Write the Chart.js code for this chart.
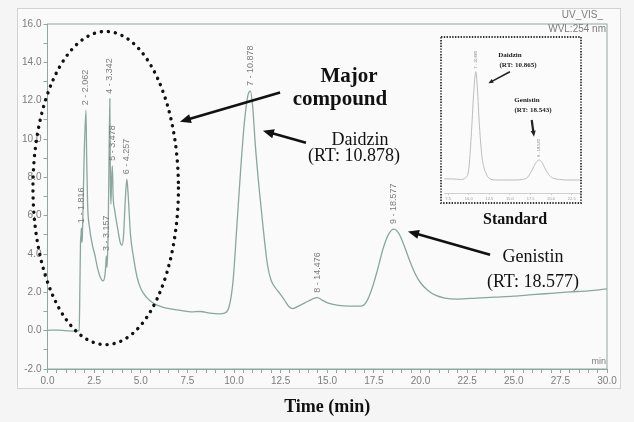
<!DOCTYPE html>
<html>
<head>
<meta charset="utf-8">
<script src="https://cdn.jsdelivr.net/npm/chart.js@4.4.1/dist/chart.umd.min.js"></script>
<style>
  html, body { margin: 0; padding: 0; background: #f5f5f5; }
  #wrap { position: relative; width: 634px; height: 422px; }
  #main { position: absolute; left: 0; top: 0; }
  #inset { position: absolute; left: 440px; top: 36px; }
</style>
</head>
<body>
<div id="wrap">
  <canvas id="main" width="634" height="422"></canvas>
  <canvas id="inset" width="142" height="168"></canvas>
</div>
<script>
// sample chromatogram, UV 254 nm (mAU vs min)
const timeMin = [
  0.0, 0.5, 1.0, 1.5, 1.70, 1.74, 1.77, 1.80, 1.816, 1.84,
  1.87, 1.95, 2.062, 2.10, 2.15, 2.25, 2.40, 2.55, 2.70, 2.85,
  2.98, 3.08, 3.13, 3.157, 3.19, 3.25, 3.30, 3.342, 3.37, 3.40,
  3.44, 3.478, 3.52, 3.60, 3.75, 3.90, 4.00, 4.08, 4.17, 4.257,
  4.33, 4.45, 4.60, 4.80, 5.00, 5.30, 5.70, 6.20, 6.70, 7.20,
  7.70, 8.20, 8.70, 9.20, 9.50, 9.75, 9.95, 10.15, 10.35, 10.55,
  10.75, 10.878, 11.0, 11.15, 11.35, 11.57, 11.80, 12.00, 12.25, 12.45,
  12.70, 12.95, 13.15, 13.40, 13.80, 14.20, 14.476, 14.75, 15.10, 15.60,
  16.20, 16.80, 17.10, 17.40, 17.70, 18.00, 18.30, 18.577, 18.85, 19.10,
  19.40, 19.70, 20.00, 20.40, 20.80, 21.30, 22.00, 23.00, 24.00, 25.00,
  26.00, 27.00, 28.00, 29.00, 30.00
];
const signal = [
  0.02, 0.03, 0.0, -0.02, 0.0, 2.5, 4.6, 5.0, 5.35, 4.6,
  4.9, 8.5, 11.5, 9.0, 6.6, 5.4, 4.5, 3.9, 3.2, 2.75,
  2.6, 2.9, 3.5, 3.9, 3.3, 5.0, 9.0, 12.1, 8.0, 6.6,
  8.0, 8.6, 7.0, 6.3, 5.4, 4.6, 4.45, 5.0, 6.8, 7.9,
  7.0, 5.0, 3.9, 2.8, 2.2, 1.75, 1.42, 1.22, 1.12, 1.05,
  0.98, 1.0, 0.92, 0.88, 0.92, 1.3, 2.6, 5.4, 8.3, 10.8,
  12.3, 12.5, 11.7, 9.6, 7.4, 5.3, 3.4, 2.6, 2.2, 1.95,
  1.6, 1.25, 1.15, 1.25, 1.45, 1.65, 1.72, 1.58, 1.42, 1.32,
  1.28, 1.28, 1.5, 2.2, 3.2, 4.3, 5.05, 5.3, 5.05, 4.5,
  3.7, 3.0, 2.5, 2.1, 1.85, 1.7, 1.65, 1.7, 1.75, 1.8,
  1.88, 1.95, 2.02, 2.08, 2.18
];
const peakNames = ['1 - 1.816', '2 - 2.062', '3 - 3.157', '4 - 3.342', '5 - 3.478',
                   '6 - 4.257', '7 - 10.878', '8 - 14.476', '9 - 18.577'];
const peakTimes = [1.816, 2.062, 3.157, 3.342, 3.478, 4.257, 10.878, 14.476, 18.577];

// standard (inset)
const stdTime = [7.0, 8.0, 9.0, 9.6, 10.0, 10.3, 10.6, 10.865, 11.05, 11.3,
                 11.6, 11.9, 12.1, 12.3, 12.6, 13.5, 14.5, 15.5, 16.5, 17.2,
                 17.8, 18.2, 18.543, 18.9, 19.3, 19.8, 20.3, 21.0, 22.0, 23.5];
const stdSignal = [1, 1, 0.5, 2, 10, 40, 80, 100, 85, 50,
                   22, 10, 6, 3, 1, 0, 0, 0, 0.5, 3,
                   11, 16.5, 18.5, 16, 10, 4, 1.5, 0.5, 0, 0];
const stdPeakNames = ['7 - 10.865', '9 - 18.543'];
const stdPeakTimes = [10.865, 18.543];

const AXIS = '#8ea8a2';
const TRACE = '#8aa69f';
const TICKTXT = '#7c7c7c';

function arrow(ctx, x1, y1, x2, y2, w, head) {
  const a = Math.atan2(y2 - y1, x2 - x1);
  const c = Math.cos(a), s = Math.sin(a);
  ctx.lineWidth = w;
  ctx.beginPath();
  ctx.moveTo(x1, y1);
  ctx.lineTo(x2 - c * head * 0.8, y2 - s * head * 0.8);
  ctx.stroke();
  ctx.beginPath();
  ctx.moveTo(x2, y2);
  ctx.lineTo(x2 - head * c + head * 0.42 * s, y2 - head * s - head * 0.42 * c);
  ctx.lineTo(x2 - head * c - head * 0.42 * s, y2 - head * s + head * 0.42 * c);
  ctx.closePath();
  ctx.fill();
}

function peakLabels(chart, names, times, xs, ys, font, gap) {
  const ctx = chart.ctx;
  ctx.save();
  ctx.fillStyle = TICKTXT;
  ctx.font = font;
  ctx.textAlign = 'left';
  ctx.textBaseline = 'middle';
  names.forEach((n, i) => {
    const k = xs.indexOf(times[i]);
    const x = chart.scales.x.getPixelForValue(times[i]);
    const y = chart.scales.y.getPixelForValue(ys[k]) - gap;
    ctx.save();
    ctx.translate(x, y);
    ctx.rotate(-Math.PI / 2);
    ctx.fillText(n, 0, 0);
    ctx.restore();
  });
  ctx.restore();
}

const mainNotes = {
  texts: [
    { t: 'Major', x: 16.17, y: 13.25, font: 'bold 21px "Liberation Serif"' },
    { t: 'compound', x: 15.68, y: 12.05, font: 'bold 21px "Liberation Serif"' },
    { t: 'Daidzin', x: 16.76, y: 9.96, font: '18px "Liberation Serif"' },
    { t: '(RT: 10.878)', x: 16.43, y: 9.08, font: '18px "Liberation Serif"' },
    { t: 'Genistin', x: 26.03, y: 3.81, font: '18px "Liberation Serif"' },
    { t: '(RT: 18.577)', x: 26.03, y: 2.5, font: '18px "Liberation Serif"' },
    { t: 'Standard', x: 25.07, y: 5.79, font: 'bold 16px "Liberation Serif"' }
  ],
  arrows: [
    { x1: 12.47, y1: 12.42, x2: 7.10, y2: 10.9 },
    { x1: 13.86, y1: 9.81, x2: 11.55, y2: 10.43 },
    { x1: 23.73, y1: 3.96, x2: 19.33, y2: 5.18 }
  ],
  ellipse: { x: 3.12, y: 7.44, rx: 3.90, ry: 8.17 }
};

const mainDecor = {
  id: 'mainDecor',
  beforeDraw(chart) {
    const ctx = chart.ctx;
    ctx.save();
    ctx.fillStyle = '#f5f5f5';
    ctx.fillRect(0, 0, chart.width, chart.height);
    ctx.fillStyle = '#fafafa';
    ctx.strokeStyle = '#d2d2d2';
    ctx.lineWidth = 1;
    ctx.fillRect(17.5, 8.5, 603, 380);
    ctx.strokeRect(17.5, 8.5, 603, 380);
    const a = chart.chartArea;
    ctx.strokeStyle = AXIS;
    ctx.strokeRect(a.left, a.top, a.right - a.left, a.bottom - a.top);
    ctx.fillStyle = TICKTXT;
    ctx.font = '10px "Liberation Sans"';
    ctx.textAlign = 'right';
    ctx.textBaseline = 'middle';
    ctx.fillText('UV_VIS_', a.right - 4, 15);
    ctx.fillText('WVL:254 nm', a.right - 1, 29);
    ctx.font = '9px "Liberation Sans"';
    ctx.fillText('min', a.right - 1, a.bottom - 7);
    ctx.restore();
  },
  afterDatasetsDraw(chart) {
    const ctx = chart.ctx;
    const X = v => chart.scales.x.getPixelForValue(v);
    const Y = v => chart.scales.y.getPixelForValue(v);
    peakLabels(chart, peakNames, peakTimes, timeMin, signal, '9px "Liberation Sans"', 5);
    ctx.save();
    // dotted ellipse around the early peaks
    const e = mainNotes.ellipse;
    const cx = X(e.x), cy = Y(e.y);
    ctx.strokeStyle = '#111';
    ctx.lineWidth = 3.4;
    ctx.lineCap = 'round';
    ctx.setLineDash([0.1, 7]);
    ctx.beginPath();
    ctx.ellipse(cx, cy, X(e.x + e.rx) - cx, cy - Y(e.y + e.ry), 0, 0, Math.PI * 2);
    ctx.stroke();
    ctx.setLineDash([]);
    ctx.lineCap = 'butt';
    ctx.fillStyle = '#111';
    mainNotes.arrows.forEach(r => arrow(ctx, X(r.x1), Y(r.y1), X(r.x2), Y(r.y2), 2.6, 11));
    ctx.textAlign = 'center';
    ctx.textBaseline = 'middle';
    mainNotes.texts.forEach(t => {
      ctx.font = t.font;
      ctx.fillText(t.t, X(t.x), Y(t.y));
    });
    ctx.restore();
  }
};

new Chart(document.getElementById('main'), {
  type: 'line',
  data: {
    datasets: [{
      data: timeMin.map((t, i) => ({ x: t, y: signal[i] })),
      borderColor: TRACE,
      borderWidth: 1.3,
      pointRadius: 0,
      cubicInterpolationMode: 'monotone',
      fill: false
    }]
  },
  options: {
    responsive: false,
    animation: false,
    events: [],
    layout: { padding: { left: 0, top: 24, right: 27, bottom: 0 } },
    plugins: { legend: { display: false }, tooltip: { enabled: false } },
    scales: {
      x: {
        type: 'linear', min: 0, max: 30,
        afterFit(s) { s.height = 53; },
        border: { color: AXIS, width: 1 },
        grid: { drawOnChartArea: false, color: AXIS, tickLength: 4, tickColor: AXIS },
        ticks: {
          stepSize: 0.5, autoSkip: false, maxRotation: 0, padding: 2,
          color: TICKTXT, font: { family: 'Liberation Sans', size: 10 },
          callback: v => Math.abs(v / 2.5 - Math.round(v / 2.5)) < 1e-6 ? v.toFixed(1) : ''
        },
        title: {
          display: true, text: 'Time (min)', color: '#111',
          font: { family: 'Liberation Serif', size: 18, weight: 'bold' },
          padding: { top: 0, bottom: 4 }
        }
      },
      y: {
        type: 'linear', min: -2, max: 16,
        afterFit(s) { s.width = 47.5; },
        border: { color: AXIS, width: 1 },
        grid: { drawOnChartArea: false, color: AXIS, tickLength: 4, tickColor: AXIS },
        ticks: {
          stepSize: 1, autoSkip: false, padding: 2,
          color: TICKTXT, font: { family: 'Liberation Sans', size: 10 },
          callback: v => v % 2 === 0 ? v.toFixed(1) : ''
        }
      }
    }
  },
  plugins: [mainDecor]
});

const insetNotes = {
  texts: [
    { t: 'Daidzin', x: 15.0, y: 115.4 },
    { t: '(RT: 10.865)', x: 15.98, y: 106.2 },
    { t: 'Genistin', x: 17.07, y: 73.9 },
    { t: '(RT: 18.543)', x: 17.8, y: 64.6 }
  ],
  arrows: [
    { x1: 15.0, y1: 100, x2: 12.38, y2: 89.3, w: 1.6, h: 5 },
    { x1: 17.64, y1: 55.4, x2: 17.92, y2: 40, w: 2.2, h: 6 }
  ]
};

const insetDecor = {
  id: 'insetDecor',
  beforeDraw(chart) {
    const ctx = chart.ctx;
    ctx.save();
    ctx.fillStyle = '#fbfbfb';
    ctx.fillRect(0, 0, chart.width, chart.height);
    ctx.restore();
  },
  afterDraw(chart) {
    const ctx = chart.ctx;
    const X = v => chart.scales.x.getPixelForValue(v);
    const Y = v => chart.scales.y.getPixelForValue(v);
    peakLabels(chart, stdPeakNames, stdPeakTimes, stdTime, stdSignal, '4px "Liberation Sans"', 3);
    ctx.save();
    ctx.fillStyle = '#222';
    ctx.strokeStyle = '#222';
    insetNotes.arrows.forEach(r => arrow(ctx, X(r.x1), Y(r.y1), X(r.x2), Y(r.y2), r.w, r.h));
    ctx.font = 'bold 7px "Liberation Serif"';
    ctx.textAlign = 'center';
    ctx.textBaseline = 'middle';
    insetNotes.texts.forEach(t => ctx.fillText(t.t, X(t.x), Y(t.y)));
    // dotted frame
    ctx.strokeStyle = '#333';
    ctx.lineWidth = 1.8;
    ctx.setLineDash([1.4, 1.4]);
    ctx.strokeRect(1, 1, chart.width - 2, chart.height - 2);
    ctx.restore();
  }
};

new Chart(document.getElementById('inset'), {
  type: 'line',
  data: {
    datasets: [{
      data: stdTime.map((t, i) => ({ x: t, y: stdSignal[i] })),
      borderColor: '#bdbdbd',
      borderWidth: 1,
      pointRadius: 0,
      cubicInterpolationMode: 'monotone',
      fill: false
    }]
  },
  options: {
    responsive: false,
    animation: false,
    events: [],
    layout: { padding: { left: 4, top: 8, right: 2, bottom: 0 } },
    plugins: { legend: { display: false }, tooltip: { enabled: false } },
    scales: {
      x: {
        type: 'linear', min: 7, max: 23.5,
        afterFit(s) { s.height = 11; },
        afterBuildTicks(s) { s.ticks = [7.5, 10, 12.5, 15, 17.5, 20, 22.5].map(v => ({ value: v })); },
        border: { color: '#cfcfcf' },
        grid: { drawOnChartArea: false, tickLength: 2, color: '#cfcfcf' },
        ticks: {
          autoSkip: false, maxRotation: 0, padding: 1, color: '#9a9a9a',
          font: { family: 'Liberation Sans', size: 4 },
          callback: v => v.toFixed(1)
        }
      },
      y: { type: 'linear', min: -12, max: 125.6, display: false }
    }
  },
  plugins: [insetDecor]
});
</script>
</body>
</html>
